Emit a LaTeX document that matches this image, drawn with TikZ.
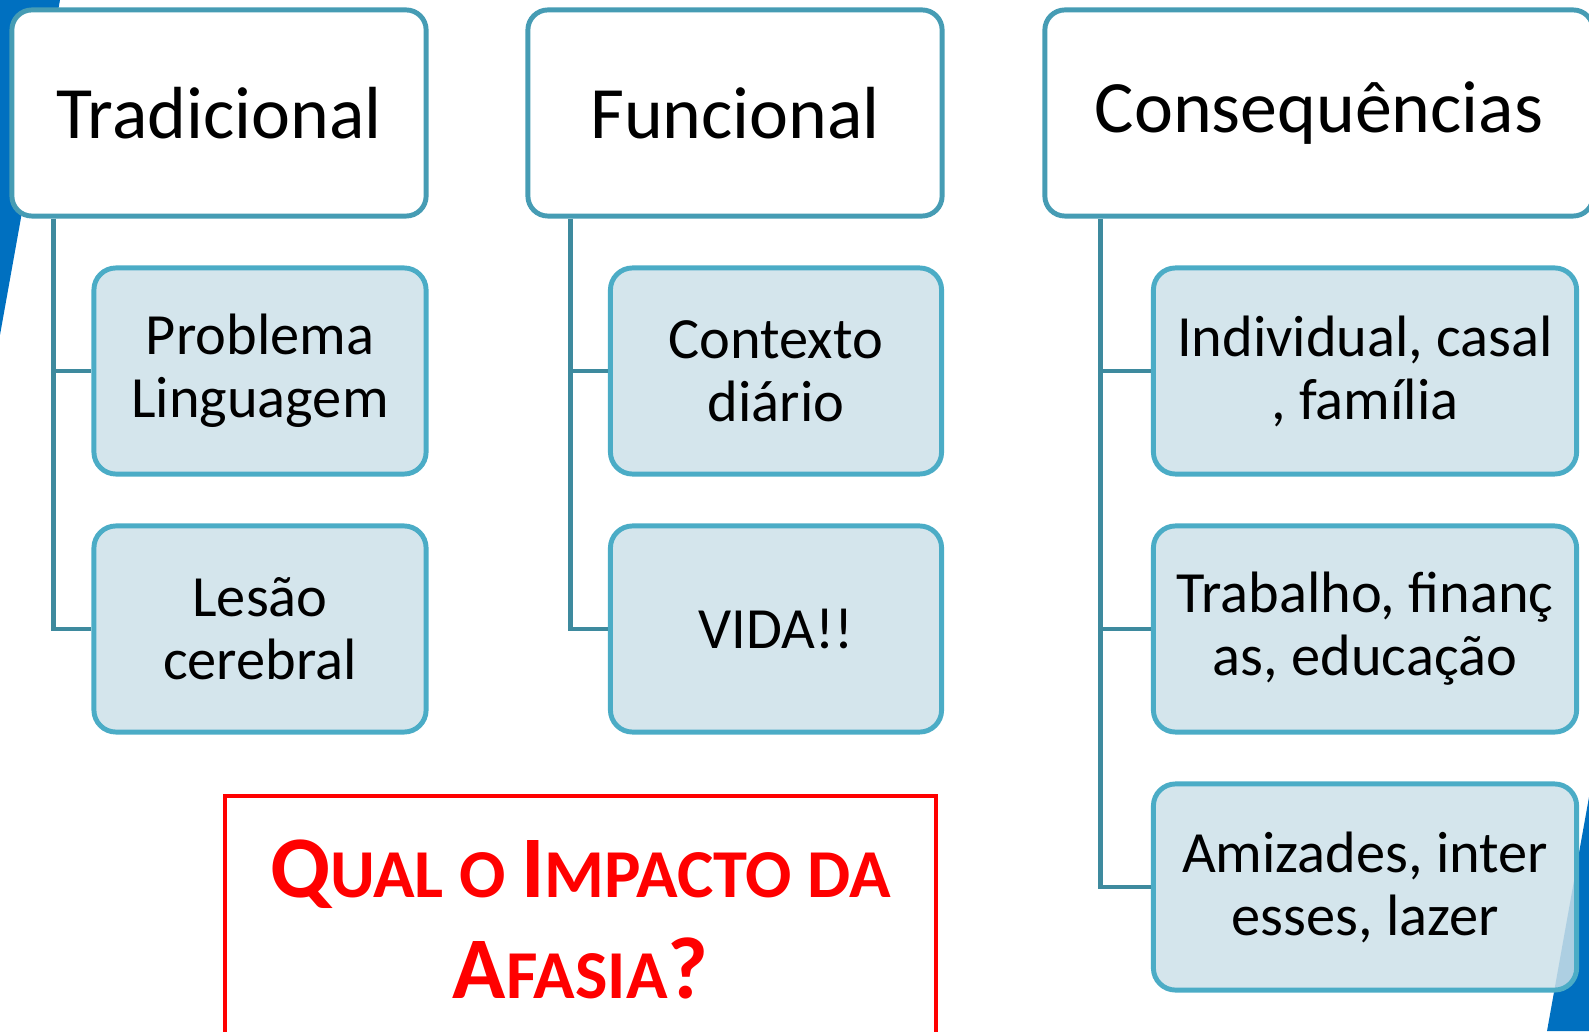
\documentclass[tikz,border=0pt]{standalone}
\usepackage{fontspec}
\setmainfont{Carlito}
\definecolor{headline}{RGB}{70,156,180}
\definecolor{subline}{RGB}{75,172,198}
\definecolor{subfill}{RGB}{204,224,233}
\definecolor{linkcol}{RGB}{62,138,158}
\definecolor{bgblue}{RGB}{0,112,192}
\definecolor{qred}{RGB}{255,0,0}
\newcommand{\qbig}[1]{{\fontsize{25}{28.7}\selectfont #1}}
\newcommand{\qsmall}[1]{{\fontsize{19.5}{28.7}\selectfont #1}}

\begin{document}
\begin{tikzpicture}[x=0.01cm,y=-0.01cm,
	topbox/.style={draw=headline,line width=1.4pt,fill=white,rounded corners=0.2cm,minimum height=2.06cm,font=\fontsize{21}{25}\selectfont},
	subbox/.style={draw=subline,line width=1.4pt,fill=subfill,fill opacity=0.85,text opacity=1,rounded corners=0.22cm,minimum height=2.06cm,align=center,font=\fontsize{16.6}{17.9}\selectfont},
	link/.style={draw=linkcol,line width=1.2pt},
	redbox/.style={draw=qred,line width=1.2pt,text=qred,minimum width=7.11cm,inner ysep=0.435cm,align=center,font=\bfseries\fontsize{25}{28.7}\selectfont}]
			\clip (0,0) rectangle (1589,1031);
			\fill[bgblue] (0,0) -- (60,0) -- (0,335) -- cycle;
			\fill[bgblue] (1589,797) -- (1547,1031) -- (1589,1031) -- cycle;

			\node (trad) at (219,113) [topbox,minimum width=4.14cm] {Tradicional};
			\node (func) at (735,113) [topbox,minimum width=4.14cm] {Funcional};
			\node (cons) at (1319,113) [topbox,minimum width=5.48cm] {Consequências};

			\node (prob) at (260,371) [subbox,minimum width=3.32cm] {Problema\\Linguagem};
			\node (lesao) at (260,629) [subbox,minimum width=3.32cm] {Lesão\\cerebral};
			\node (cont) at (776,371) [subbox,minimum width=3.31cm] {Contexto\\diário};
			\node (vida) at (776,629) [subbox,minimum width=3.31cm] {VIDA!!};
			\node (indiv) at (1365,371) [subbox,minimum width=4.23cm] {Individual, casal\\, família};
			\node (trab) at (1365,629) [subbox,minimum width=4.23cm] {Trabalho, finanç\\as, educação};
			\node (amiz) at (1365,887) [subbox,minimum width=4.23cm] {Amizades, inter\\esses, lazer};

			\draw[link] ([xshift=0.44cm]trad.south west) |- (prob.west) ([xshift=0.44cm]trad.south west) |- (lesao.west);
			\draw[link] ([xshift=0.45cm]func.south west) |- (cont.west) ([xshift=0.45cm]func.south west) |- (vida.west);
			\draw[link] ([xshift=0.58cm]cons.south west) |- (indiv.west) ([xshift=0.58cm]cons.south west) |- (trab.west) ([xshift=0.58cm]cons.south west) |- (amiz.west);

			\node (impacto) at (580.5,794) [redbox,anchor=north] {\qbig{Q}\qsmall{UAL O }\qbig{I}\qsmall{MPACTO DA}\\\qbig{A}\qsmall{FASIA}\qbig{?}};
		\end{tikzpicture}
\end{document}
